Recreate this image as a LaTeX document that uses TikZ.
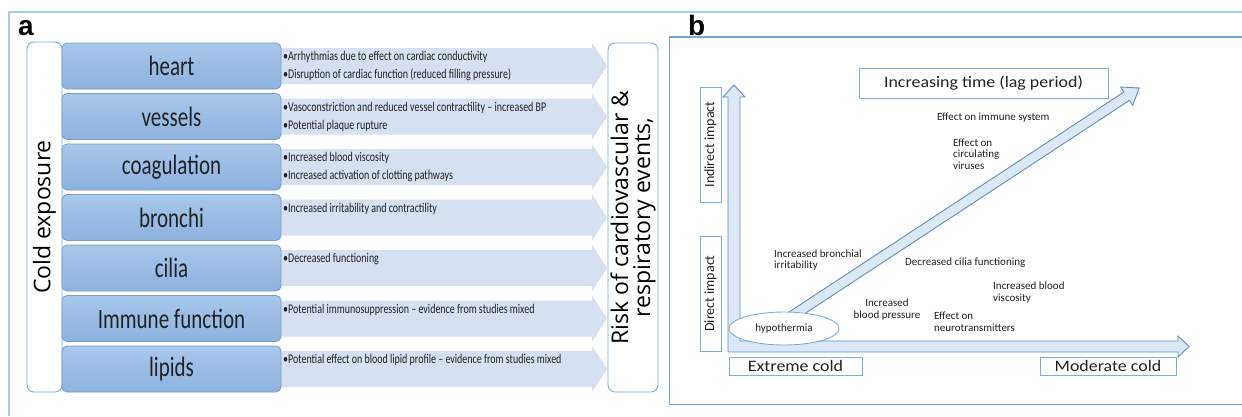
\documentclass[tikz,border=0pt]{standalone}
\usepackage{fontspec}
\setmainfont{Carlito}
\newfontfamily\osans{Open Sans}
\newfontfamily\lsans{Liberation Sans}
\newfontfamily\narrowf[FakeStretch=0.75]{Carlito}
\newfontfamily\widef[FakeStretch=1.12]{Carlito}
\usetikzlibrary{shapes.geometric}
\definecolor{frameA}{HTML}{A9CDEE}
\definecolor{frameB}{HTML}{77A5D6}
\definecolor{boxtop}{HTML}{A8C7EB}
\definecolor{boxbot}{HTML}{8CB2DF}
\definecolor{boxedge}{HTML}{7C9CC4}
\definecolor{arrfill}{HTML}{D6E0F1}
\definecolor{wedge}{HTML}{78AEE0}
\definecolor{bedge}{HTML}{7EAEE0}
\definecolor{harrowedge}{HTML}{5F8FC6}
\definecolor{harrowfill}{HTML}{DDE8F6}
\definecolor{txt}{HTML}{222222}
\begin{document}
\begin{tikzpicture}[x=1pt,y=-1pt,
  bluebox/.style={draw=boxedge, line width=0.8pt, rounded corners=5pt, top color=boxtop, bottom color=boxbot,
    minimum width=219pt, minimum height=46pt, inner sep=0pt, font=\narrowf\fontsize{28}{30}\selectfont, text=txt},
  bul/.style={anchor=west, inner sep=0pt, font=\narrowf\fontsize{13.3}{15}\selectfont, text=txt},
  wbox/.style={draw=wedge, line width=0.9pt, fill=white, rounded corners=7pt, inner sep=0pt},
  bframe/.style={draw=bedge, line width=0.9pt, fill=white, inner sep=0pt, text=txt},
  harrow/.style={draw=harrowedge, fill=harrowfill, line width=0.9pt, line join=miter},
  lab/.style={font=\fontsize{11}{11.5}\selectfont, text=txt, align=left, inner sep=0pt},
  panellabel/.style={font=\lsans\bfseries\fontsize{28}{30}\selectfont, anchor=base west, inner sep=0pt}
]
\useasboundingbox (0,0) rectangle (1242,416);
\fill[white] (0,0) rectangle (1242,416);

% outer frame
\draw[frameA, line width=1.5pt] (9,416) -- (9,12) -- (1242,12);
\node[panellabel] (la) at (18,35) {a};

% ---------- panel a ----------
\node[wbox, rotate=90, minimum width=350pt, minimum height=35pt,
      font=\osans\fontsize{23}{26}\selectfont] (cold) at (44.5,217) {Cold exposure};

\foreach \t/\nm/\lab/\la in {
  43/heart/heart/{•Arrhythmias due to effect on cardiac conductivity},
  93.5/vessels/vessels/{•Vasoconstriction and reduced vessel contractility – increased BP},
  144/coag/coagulation/{•Increased blood viscosity},
  194.5/bronchi/bronchi/{•Increased irritability and contractility},
  245/cilia/cilia/{•Decreased functioning},
  295.5/immune/Immune function/{•Potential immunosuppression – evidence from studies mixed},
  346/lipids/lipids/{•Potential effect on blood lipid profile – evidence from studies mixed}}
{
  \fill[arrfill] (270,\t+5) -- (592,\t+5) -- (592,\t) -- (607,\t+23) -- (592,\t+46) -- (592,\t+41) -- (270,\t+41) -- cycle;
  \node[bluebox] (\nm) at (171.5,\t+23) {\lab};
  \node[bul] (\nm-a) at (283,\t+14) {\la};
}
\node[bul] (heart-b) at (283,75) {•Disruption of cardiac function (reduced filling pressure)};
\node[bul] (vessels-b) at (283,125.5) {•Potential plaque rupture};
\node[bul] (coag-b) at (283,176) {•Increased activation of clotting pathways};

\node[wbox, rotate=90, minimum width=349pt, minimum height=50pt, align=center,
      font=\osans\fontsize{23}{22}\selectfont] (risk) at (633,217.5) {Risk of cardiovascular \&\\respiratory events,};

% ---------- panel b ----------
\node[panellabel] (lb) at (688,35) {b};
\draw[frameB, line width=1.2pt] (1242,37) -- (669.5,37) -- (669.5,404.5) -- (1242,404.5);

\node[bframe, rotate=90, minimum width=115pt, minimum height=21pt, font=\fontsize{14}{16}\selectfont] (ind) at (710.5,144.5) {Indirect impact};
\node[bframe, rotate=90, minimum width=115pt, minimum height=21pt, font=\fontsize{14}{16}\selectfont] (dir) at (710.5,293.5) {Direct impact};
\node[bframe, minimum width=249pt, minimum height=30pt, font=\widef\fontsize{16}{17}\selectfont] (time) at (983.5,83) {Increasing time (lag period)};
\node[bframe, minimum width=133pt, minimum height=18pt, font=\widef\fontsize{16}{17}\selectfont] (ext) at (795.5,366) {Extreme cold};
\node[bframe, minimum width=136pt, minimum height=18pt, font=\widef\fontsize{16}{17}\selectfont] (mod) at (1108,366) {Moderate cold};

% L-shaped axes arrow
\draw[harrow] (728,352) -- (728,97) -- (723,97) -- (734,85) -- (745,97) -- (740,97) -- (740,341)
  -- (1178,341) -- (1178,336) -- (1189,346.5) -- (1178,357) -- (1178,352) -- cycle;

% diagonal arrow
\begin{scope}[shift={(789,318)}, rotate=33.3]
  \draw[harrow] (0,-5) -- (404,-5) -- (404,-11) -- (419,0) -- (404,11) -- (404,5) -- (0,5) -- cycle;
\end{scope}

\node[ellipse, draw=bedge, line width=0.9pt, fill=white, minimum width=110pt, minimum height=33pt, inner sep=0pt,
      font=\fontsize{11}{12}\selectfont, text=txt] (hypo) at (784,328.5) {hypothermia};

% labels
\node[lab, anchor=west] (l1) at (937,118) {Effect on immune system};
\node[lab, anchor=west] (l2) at (953,154) {Effect on\\circulating\\viruses};
\node[lab, anchor=west] (l3) at (774,260) {Increased bronchial\\irritability};
\node[lab, anchor=west] (l4) at (905,263) {Decreased cilia functioning};
\node[lab, anchor=west] (l5) at (993,292.5) {Increased blood\\viscosity};
\node[lab, align=center] (l6) at (887,309.5) {Increased\\blood pressure};
\node[lab, anchor=west] (l7) at (934,321.5) {Effect on\\neurotransmitters};
\end{tikzpicture}
\end{document}
